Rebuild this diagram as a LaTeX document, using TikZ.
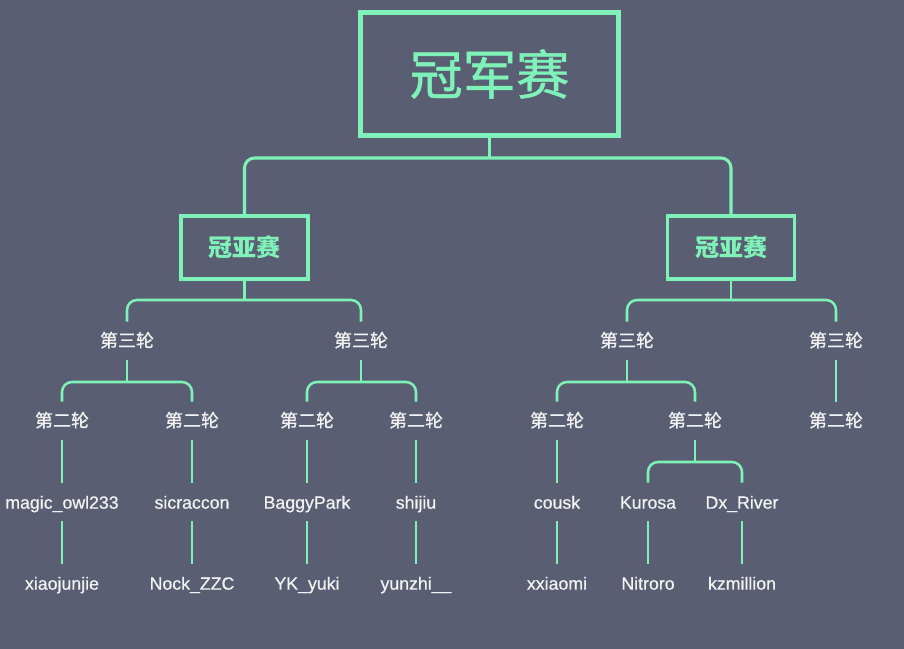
\documentclass[tikz,border=0pt]{standalone}
\usepackage{fontspec}
\setmainfont{Liberation Sans}
\newfontfamily\nmfont[FakeBold=0.6]{Liberation Sans}
\newfontfamily\cjk{Noto Sans CJK SC}
\newfontfamily\cjkm[FakeBold=0.8]{Noto Sans CJK SC}
\definecolor{bg}{HTML}{5A5E72}
\definecolor{grn}{HTML}{7EF2B8}
\definecolor{wt}{HTML}{F2F2F2}
\begin{document}
\begin{tikzpicture}[x=0.75pt,y=-0.75pt,
  bigbox/.style={draw=grn, line width=3.75pt, inner sep=0pt, minimum width=193.5pt, minimum height=92.25pt, text=grn, font=\fontsize{40}{44}\selectfont\cjkm},
  midbox/.style={draw=grn, line width=2.6pt, inner sep=0pt, minimum width=95.25pt, minimum height=47.25pt, text=grn, font=\fontsize{18}{21}\selectfont\cjk\bfseries},
  lbl/.style={text=wt, inner sep=0pt, minimum height=28.5pt, text height=11pt, text depth=2pt, font=\fontsize{13.5}{16}\selectfont\cjkm},
  nm/.style={text=wt, inner sep=0pt, minimum height=28.5pt, text height=11.5pt, text depth=1.5pt, font=\fontsize{13.3}{16}\selectfont\nmfont},
  conn/.style={draw=grn, line width=1.9pt, rounded corners=7.5pt},
  tconn/.style={draw=grn, line width=2.3pt, rounded corners=7.5pt}]
\fill[bg] (0,0) rectangle (904,649);
\useasboundingbox (0,0) rectangle (904,649);
% boxes
\node[bigbox] (top) at (489.5,74) {冠军赛};
\node[midbox] (L) at (244.5,247.5) {冠亚赛};
\node[midbox] (R) at (731,247.5) {冠亚赛};
% round 3
\node[lbl] (A1) at (127,341) {第三轮};
\node[lbl] (A2) at (361,341) {第三轮};
\node[lbl] (A3) at (627,341) {第三轮};
\node[lbl] (A4) at (836,341) {第三轮};
% round 2
\node[lbl] (B1) at (62,421) {第二轮};
\node[lbl] (B2) at (192,421) {第二轮};
\node[lbl] (B3) at (307,421) {第二轮};
\node[lbl] (B4) at (416,421) {第二轮};
\node[lbl] (B5) at (557,421) {第二轮};
\node[lbl] (B6) at (695,421) {第二轮};
\node[lbl] (B7) at (836,421) {第二轮};
% names
\node[nm] (C1) at (62,502) {magic\_owl233};
\node[nm] (C2) at (192,502) {sicraccon};
\node[nm] (C3) at (307,502) {BaggyPark};
\node[nm] (C4) at (416,502) {shijiu};
\node[nm] (C5) at (557,502) {cousk};
\node[nm] (C6) at (648,502) {Kurosa};
\node[nm] (C7) at (742,502) {Dx\_River};
\node[nm] (D1) at (62,583) {xiaojunjie};
\node[nm] (D2) at (192,583) {Nock\_ZZC};
\node[nm] (D3) at (307,583) {YK\_yuki};
\node[nm] (D4) at (416,583) {yunzhi\_\_};
\node[nm] (D5) at (557,583) {xxiaomi};
\node[nm] (D6) at (648,583) {Nitroro};
\node[nm] (D7) at (742,583) {kzmillion};
% top fork
\draw[tconn] (top.south) -- (top.south |- 0,158);
\draw[tconn] (L.north) -- (L.north |- 0,158) -- (R.north |- 0,158) -- (R.north);
% L fork
\draw[conn] (L.south) -- (L.south |- 0,300);
\draw[conn] (A1.north) -- (A1.north |- 0,300) -- (A2.north |- 0,300) -- (A2.north);
% R fork
\draw[conn] (R.south) -- (R.south |- 0,300);
\draw[conn] (A3.north) -- (A3.north |- 0,300) -- (A4.north |- 0,300) -- (A4.north);
% round3 forks
\draw[conn] (A1.south) -- (A1.south |- 0,382);
\draw[conn] (B1.north) -- (B1.north |- 0,382) -- (B2.north |- 0,382) -- (B2.north);
\draw[conn] (A2.south) -- (A2.south |- 0,382);
\draw[conn] (B3.north) -- (B3.north |- 0,382) -- (B4.north |- 0,382) -- (B4.north);
\draw[conn] (A3.south) -- (A3.south |- 0,382);
\draw[conn] (B5.north) -- (B5.north |- 0,382) -- (B6.north |- 0,382) -- (B6.north);
\draw[conn] (A4) -- (B7);
% round2 to names
\draw[conn] (B1) -- (C1);
\draw[conn] (B2) -- (C2);
\draw[conn] (B3) -- (C3);
\draw[conn] (B4) -- (C4);
\draw[conn] (B5) -- (C5);
\draw[conn] (B6.south) -- (B6.south |- 0,462);
\draw[conn] (C6.north) -- (C6.north |- 0,462) -- (C7.north |- 0,462) -- (C7.north);
% names to names
\draw[conn] (C1) -- (D1);
\draw[conn] (C2) -- (D2);
\draw[conn] (C3) -- (D3);
\draw[conn] (C4) -- (D4);
\draw[conn] (C5) -- (D5);
\draw[conn] (C6) -- (D6);
\draw[conn] (C7) -- (D7);
\end{tikzpicture}
\end{document}
